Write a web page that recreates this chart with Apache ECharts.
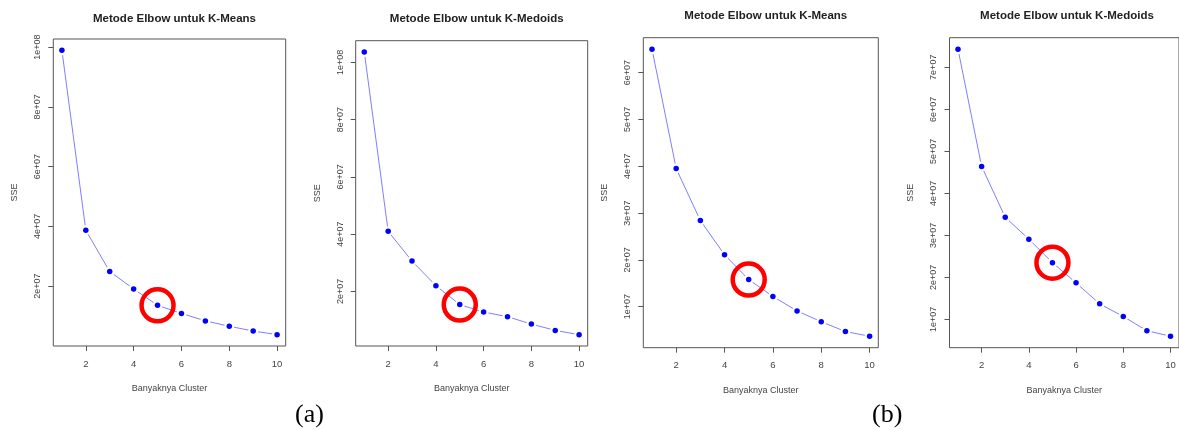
<!DOCTYPE html>
<html>
<head>
<meta charset="utf-8">
<script src="https://cdn.jsdelivr.net/npm/echarts@6/dist/echarts.min.js"></script>
<style>
  html, body { margin: 0; padding: 0; background: #fff; }
  #chart { width: 1179px; height: 430px; }
</style>
</head>
<body>
<div id="chart"></div>
<script>
// jumlah cluster (k)
const clusters = [1, 2, 3, 4, 5, 6, 7, 8, 9, 10];

// (a)
const sseMeansA   = [98900000, 38700000, 24900000, 19100000, 13600000, 10900000, 8400000, 6600000, 5000000, 3800000];
const sseMedoidsA = [103600000, 41000000, 30600000, 22000000, 15400000, 12800000, 11200000, 8600000, 6400000, 4900000];
// (b)
const sseMeansB   = [65000000, 39500000, 28400000, 21100000, 15800000, 12200000, 9100000, 6800000, 4700000, 3700000];
const sseMedoidsB = [74300000, 46400000, 34300000, 29100000, 23500000, 18700000, 13700000, 10700000, 7300000, 6000000];

const xTicks = [2, 4, 6, 8, 10];
const yTicksA = [20000000, 40000000, 60000000, 80000000, 100000000];
const yTicksMeansB = [10000000, 20000000, 30000000, 40000000, 50000000, 60000000];
const yTicksMedoidsB = [10000000, 20000000, 30000000, 40000000, 50000000, 60000000, 70000000];

const elbowK = 5;

const panels = [
    { title: 'Metode Elbow untuk K-Means',   data: sseMeansA,   yTicks: yTicksA,        box: [53.3, 39, 232.4, 307] },
    { title: 'Metode Elbow untuk K-Medoids', data: sseMedoidsA, yTicks: yTicksA,        box: [355.7, 40.7, 232, 305.3] },
    { title: 'Metode Elbow untuk K-Means',   data: sseMeansB,   yTicks: yTicksMeansB,   box: [643.3, 37.7, 235, 310] },
    { title: 'Metode Elbow untuk K-Medoids', data: sseMedoidsB, yTicks: yTicksMedoidsB, box: [949.5, 37.7, 235, 310] }
];

const FONT = 'Liberation Sans, Arial, sans-serif';

// format seperti R: 2e+07, 1e+08
function sci(v) {
    let e = Math.floor(Math.log10(v) + 1e-9);
    let m = Math.round(v / Math.pow(10, e));
    return m + 'e+' + (e < 10 ? '0' + e : e);
}

// rentang sumbu gaya R (tambahan 4% di tiap sisi)
function pad(lo, hi) {
    let d = (hi - lo) * 0.04;
    return [lo - d, hi + d];
}

let grid = [], xAxis = [], yAxis = [], series = [], title = [];

panels.forEach(function (p, i) {
    let b = p.box;
    grid.push({
        left: b[0], top: b[1], width: b[2], height: b[3],
        show: true, borderColor: '#555', borderWidth: 1, backgroundColor: 'transparent'
    });
    title.push({
        text: p.title,
        left: b[0] + b[2] / 2 + (i === 3 ? -5 : 0),
        top: i < 2 ? 8 : 5,
        textAlign: 'center',
        textStyle: { fontFamily: FONT, fontSize: 11.5, fontWeight: 'bold', color: '#222' }
    });
    let xr = pad(1, 10);
    xAxis.push({
        gridIndex: i, type: 'value', min: xr[0], max: xr[1],
        name: 'Banyaknya Cluster', nameLocation: 'middle', nameGap: 38,
        nameTextStyle: { fontFamily: FONT, fontSize: 9, color: '#444', verticalAlign: 'top' },
        axisLine: { show: false },
        axisTick: { show: true, inside: false, length: 5, lineStyle: { color: '#555' }, customValues: xTicks },
        axisLabel: { fontFamily: FONT, fontSize: 9.5, color: '#444', margin: 13, customValues: xTicks },
        splitLine: { show: false }
    });
    let lo = Math.min.apply(null, p.data), hi = Math.max.apply(null, p.data);
    let yr = pad(lo, hi);
    yAxis.push({
        gridIndex: i, type: 'value', min: yr[0], max: yr[1],
        name: 'SSE', nameLocation: 'middle', nameGap: 34, nameRotate: 90,
        nameTextStyle: { fontFamily: FONT, fontSize: 9, color: '#444' },
        axisLine: { show: false },
        axisTick: { show: true, inside: false, length: 5, lineStyle: { color: '#555' }, customValues: p.yTicks },
        axisLabel: { fontFamily: FONT, fontSize: 9, color: '#444', rotate: 90, margin: 11,
            customValues: p.yTicks, formatter: sci },
        splitLine: { show: false }
    });
    let pts = clusters.map(function (k, j) { return [k, p.data[j]]; });
    // garis penghubung (type = "b")
    series.push({
        type: 'line', xAxisIndex: i, yAxisIndex: i, data: pts,
        showSymbol: false, symbol: 'none',
        lineStyle: { color: '#7f7fff', width: 1 },
        emphasis: { disabled: true }, silent: true, z: 2
    });
    // celah putih di sekitar titik
    series.push({
        type: 'scatter', xAxisIndex: i, yAxisIndex: i, data: pts,
        symbol: 'circle', symbolSize: 10,
        itemStyle: { color: '#fff', opacity: 1 }, silent: true, z: 3
    });
    series.push({
        type: 'scatter', xAxisIndex: i, yAxisIndex: i, data: pts,
        symbol: 'circle', symbolSize: 5.5,
        itemStyle: { color: '#0000ff', opacity: 1 }, silent: true, z: 4
    });
    // lingkaran merah di titik elbow
    series.push({
        type: 'scatter', xAxisIndex: i, yAxisIndex: i,
        data: [[elbowK, p.data[clusters.indexOf(elbowK)]]],
        symbol: 'circle', symbolSize: 32,
        itemStyle: { color: 'rgba(0,0,0,0)', borderColor: '#ff0000', borderWidth: 4.5, opacity: 1 },
        silent: true, z: 5
    });
});

let myChart = echarts.init(document.getElementById('chart'), null, { renderer: 'canvas' });
myChart.setOption({
    animation: false,
    backgroundColor: '#fff',
    title: title,
    grid: grid,
    xAxis: xAxis,
    yAxis: yAxis,
    series: series,
    graphic: [
        { type: 'text', left: 295, top: 402, style: { text: '(a)', font: '26px "Liberation Serif", serif', fill: '#000' } },
        { type: 'text', left: 872, top: 402, style: { text: '(b)', font: '26px "Liberation Serif", serif', fill: '#000' } }
    ]
});
</script>
</body>
</html>
